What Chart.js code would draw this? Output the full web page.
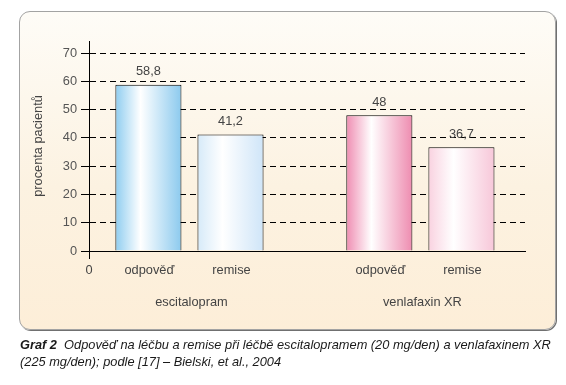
<!DOCTYPE html>
<html>
<head>
<meta charset="utf-8">
<script src="https://cdn.jsdelivr.net/npm/chart.js@4.4.0/dist/chart.umd.min.js"></script>
<style>
  body { margin: 0; background: #fff; width: 566px; height: 385px; position: relative; overflow: hidden; font-family: "Liberation Sans", Arial, sans-serif; }
  .box { position: absolute; left: 19px; top: 11px; width: 535px; height: 317px; border: 1px solid #a3a3a3; border-radius: 11px; box-shadow: 1px 1px 0 #707070; background: linear-gradient(#fefcf7, #fcf2e1 55%, #fdeed8); }
  canvas { position: absolute; left: 0; top: 0; }
  .caption { position: absolute; left: 20px; top: 337px; font-size: 12.8px; font-style: italic; line-height: 16.5px; color: #1a1a1a; white-space: nowrap; }
</style>
</head>
<body>
<div class="box"></div>
<canvas id="chart" width="566" height="385"></canvas>
<div class="caption"><b>Graf 2</b>&nbsp; Odpověď na léčbu a remise při léčbě escitalopramem (20 mg/den) a venlafaxinem XR<br>(225 mg/den); podle [17] – Bielski, et al., 2004</div>
<script>
const groups = ['escitalopram', 'venlafaxin XR'];
const measures = ['odpověď', 'remise'];
const odpoved = [58.8, 48];
const remise = [41.2, 36.7];
const yTicks = [0, 10, 20, 30, 40, 50, 60, 70];

// edge colours of each bar (left, right), fading to white near the middle
const shades = [
  [['#8fcdf0', '#8ccaee'], ['#ef8db2', '#ee8cb0']],
  [['#d6eaf9', '#cfe5f8'], ['#f9d2e0', '#f7c7d9']]
];
const font = { family: '"Liberation Sans", Arial, sans-serif', size: 12.8 };

const barShading = {
  id: 'barShading',
  beforeDatasetsDraw(chart) {
    const ctx = chart.ctx;
    chart.data.datasets.forEach((ds, di) => {
      chart.getDatasetMeta(di).data.forEach((bar, i) => {
        const g = ctx.createLinearGradient(bar.x - bar.width / 2, 0, bar.x + bar.width / 2, 0);
        g.addColorStop(0, shades[di][i][0]);
        g.addColorStop(0.38, '#ffffff');
        g.addColorStop(1, shades[di][i][1]);
        bar.options = Object.assign({}, bar.options, { backgroundColor: g });
      });
    });
  }
};

const valueLabels = {
  id: 'valueLabels',
  afterDatasetsDraw(chart) {
    const ctx = chart.ctx;
    ctx.save();
    ctx.font = font.size + 'px ' + font.family;
    ctx.fillStyle = '#444';
    ctx.textAlign = 'center';
    ctx.textBaseline = 'middle';
    chart.data.datasets.forEach((ds, di) => {
      chart.getDatasetMeta(di).data.forEach((bar, i) => {
        ctx.fillText(String(ds.data[i].y).replace('.', ','), bar.x, bar.y - 13);
      });
    });
    ctx.restore();
  }
};

const axisLabels = {
  id: 'axisLabels',
  afterDraw(chart) {
    const ctx = chart.ctx;
    const area = chart.chartArea;
    const x = chart.scales.x;
    ctx.save();
    ctx.strokeStyle = '#000';
    ctx.lineWidth = 1;
    ctx.beginPath();
    ctx.moveTo(Math.round(area.left) + 0.5, area.bottom);
    ctx.lineTo(Math.round(area.left) + 0.5, area.bottom + 8);
    ctx.stroke();
    ctx.font = font.size + 'px ' + font.family;
    ctx.fillStyle = '#444';
    ctx.textAlign = 'center';
    ctx.textBaseline = 'middle';
    ctx.fillText('0', area.left, area.bottom + 19);
    chart.data.datasets.forEach((ds, di) => {
      chart.getDatasetMeta(di).data.forEach(bar => {
        ctx.fillText(measures[di], bar.x + 1, area.bottom + 19);
      });
    });
    groups.forEach((g, i) => {
      ctx.fillText(g, x.getPixelForValue(i) + 2, area.bottom + 51);
    });
    ctx.restore();
  }
};

new Chart(document.getElementById('chart'), {
  type: 'bar',
  data: {
    datasets: measures.map((m, di) => ({
      label: m,
      data: [odpoved, remise][di].map((v, i) => ({ x: i, y: v })),
      borderColor: '#000',
      borderWidth: 1,
      backgroundColor: '#dddddd',
      categoryPercentage: 0.711,
      barPercentage: 0.805
    }))
  },
  options: {
    responsive: false,
    animation: false,
    layout: { padding: { left: 28, top: 41, right: 41, bottom: 74 } },
    plugins: { legend: { display: false }, tooltip: { enabled: false } },
    scales: {
      x: {
        type: 'linear',
        min: -0.435,
        max: 1.453,
        offset: false,
        grid: { display: false },
        border: { color: '#000', width: 1 },
        ticks: { display: false },
        afterBuildTicks: s => { s.ticks = groups.map((g, i) => ({ value: i })); },
        afterFit: s => { s.height = 60; }
      },
      y: {
        min: 0,
        max: 74.3,
        grid: { color: '#000', tickLength: 8, tickColor: '#000' },
        border: { color: '#000', width: 1, dash: [6, 4] },
        ticks: { color: '#555', padding: 4, font: font },
        afterBuildTicks: s => { s.ticks = yTicks.map(v => ({ value: v })); },
        afterFit: s => { s.width = 61; },
        title: { display: true, text: 'procenta pacientů', color: '#444', font: font, padding: { top: 3, bottom: 4 } }
      }
    }
  },
  plugins: [barShading, valueLabels, axisLabels]
});
</script>
</body>
</html>
